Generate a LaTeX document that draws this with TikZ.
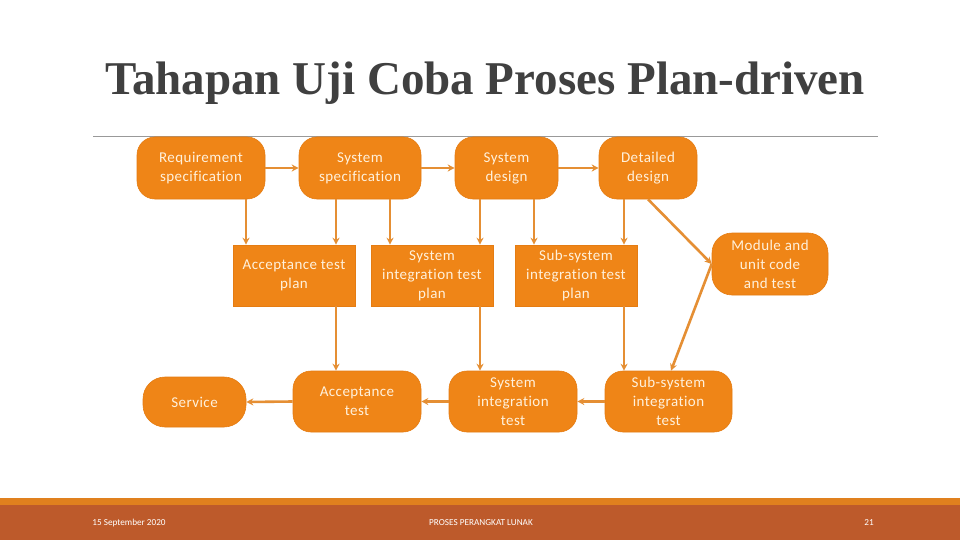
\documentclass[tikz,border=0pt]{standalone}
\usepackage{fontspec}
\setmainfont{Carlito}[Ligatures=NoCommon, LetterSpace=3]
\newfontfamily\titlefont{Liberation Serif}
\newfontfamily\footfont{Carlito}[Ligatures=NoCommon]
\usetikzlibrary{arrows.meta}
\definecolor{boxfill}{HTML}{EF8517}
\definecolor{boxedge}{HTML}{E57C12}
\definecolor{linecol}{HTML}{E58F34}
\definecolor{txtcol}{HTML}{FFF1DC}
\definecolor{titlecol}{HTML}{404040}
\definecolor{footA}{HTML}{E0801E}
\definecolor{footB}{HTML}{BD5A2B}
\tikzset{
  stage/.style={fill=boxfill, draw=boxedge, line width=0.6pt, rounded corners=18pt, align=center,
    text=txtcol, font=\fontsize{15}{19}\selectfont, inner sep=0pt},
  planbox/.style={fill=boxfill, draw=boxedge, line width=0.6pt, align=center,
    text=txtcol, font=\fontsize{15}{19}\selectfont, inner sep=0pt,
    minimum width=122pt, minimum height=61pt},
  arr/.style={draw=linecol, line width=2.6pt, -{Stealth[length=7pt,width=7pt]}},
  foot/.style={text=white, font=\footfont\fontsize{9.2}{10}\selectfont, inner sep=0pt}
}
\begin{document}
\begin{tikzpicture}[x=1pt,y=-1pt]
\useasboundingbox (0,0) rectangle (960,540);
\fill[white] (0,0) rectangle (960,540);
% title
\node[anchor=base, text=titlecol, font=\titlefont\bfseries\fontsize{47}{54}\selectfont, inner sep=0pt] (title) at (485,95) {Tahapan Uji Coba Proses Plan-driven};
\draw[color=black!40, line width=0.8pt] (93,136) -- (878,136);
% footer
\fill[footA] (0,498) rectangle (960,505);
\fill[footB] (0,505) rectangle (960,540);
\node[foot] (fdate) at (129,523) {15 September 2020};
\node[foot] (ftitle) at (481,523) {PROSES PERANGKAT LUNAK};
\node[foot] (fnum) at (869,523) {21};
% row 1
\node[stage, minimum width=128pt, minimum height=62pt] (req) at (201,168) {Requirement\\specification};
\node[stage, minimum width=122pt, minimum height=62pt] (sysspec) at (360,168) {System\\specification};
\node[stage, minimum width=103pt, minimum height=62pt] (sysdes) at (506.5,168) {System\\design};
\node[stage, minimum width=98pt, minimum height=62pt] (detdes) at (648,168) {Detailed\\design};
% row 2
\node[planbox] (atp) at (294,275.5) {Acceptance test\\plan};
\node[planbox] (sitp) at (432,275.5) {System\\integration test\\plan};
\node[planbox] (ssitp) at (576,275.5) {Sub-system\\integration test\\plan};
\node[stage, minimum width=116pt, minimum height=62pt, rounded corners=20pt] (mod) at (770,264) {Module and\\unit code\\and test};
% row 3
\node[stage, minimum width=103pt, minimum height=50pt, rounded corners=22pt] (service) at (194.5,402) {Service};
\node[stage, minimum width=128pt, minimum height=61pt] (at) at (357,401.5) {Acceptance\\test};
\node[stage, minimum width=128pt, minimum height=61pt] (sit) at (513,401.5) {System\\integration\\test};
\node[stage, minimum width=127pt, minimum height=61pt] (ssit) at (668.5,401.5) {Sub-system\\integration\\test};
% horizontal row 1
\draw[arr] (req.east) -- (sysspec.west);
\draw[arr] (sysspec.east) -- (sysdes.west);
\draw[arr] (sysdes.east) -- (detdes.west);
% vertical to row 2
\draw[arr] ([xshift=45pt]req.south) -- ([xshift=-48pt]atp.north);
\draw[arr] ([xshift=-24pt]sysspec.south) -- ([xshift=42pt]atp.north);
\draw[arr] ([xshift=30pt]sysspec.south) -- ([xshift=-42pt]sitp.north);
\draw[arr] ([xshift=-26.5pt]sysdes.south) -- ([xshift=48pt]sitp.north);
\draw[arr] ([xshift=27.5pt]sysdes.south) -- ([xshift=-42pt]ssitp.north);
\draw[arr] ([xshift=-24pt]detdes.south) -- ([xshift=48pt]ssitp.north);
\draw[arr] (detdes.south) -- (mod.west);
% to row 3
\draw[arr] ([xshift=42pt]atp.south) -- ([xshift=-21pt]at.north);
\draw[arr] ([xshift=48pt]sitp.south) -- ([xshift=-33pt]sit.north);
\draw[arr] ([xshift=48pt]ssitp.south) -- ([xshift=-44.5pt]ssit.north);
\draw[arr] (mod.west) -- ([xshift=2.5pt]ssit.north);
% row 3 horizontals
\draw[arr] (ssit.west) -- (sit.east);
\draw[arr] (sit.west) -- (at.east);
\draw[arr] (at.west) -- (service.east);
\end{tikzpicture}
\end{document}
